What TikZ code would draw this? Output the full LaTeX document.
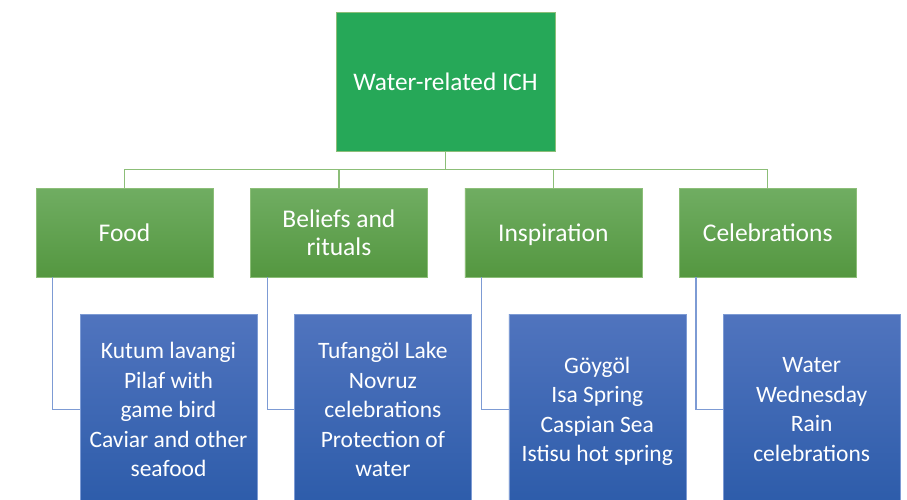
\documentclass[tikz,border=0pt]{standalone}
\usepackage{fontspec}
\setmainfont{Carlito}
\usepackage{xcolor}
\usepackage{tikz}
\usetikzlibrary{positioning}

\definecolor{rootgreen}{RGB}{38,168,88}
\definecolor{gtop}{RGB}{112,173,98}
\definecolor{gbot}{RGB}{84,151,64}
\definecolor{gline}{RGB}{140,190,120}
\definecolor{btop}{RGB}{80,116,190}
\definecolor{bbot}{RGB}{45,92,170}
\definecolor{bline}{RGB}{125,155,212}

\begin{document}
\begin{tikzpicture}[
  x=1pt, y=1pt,
  root/.style={fill=rootgreen, draw=gline, minimum width=219pt, minimum height=139pt,
               font=\fontsize{25.3}{29}\selectfont, text=white, align=center, inner sep=0pt},
  cat/.style={top color=gtop, bottom color=gbot, draw=gline, minimum width=177pt, minimum height=89pt,
              font=\fontsize{25.5}{28}\selectfont, text=white, align=center, inner sep=0pt,
              text depth=0pt},
  item/.style={top color=btop, bottom color=bbot, draw=bline, minimum width=177pt, minimum height=190pt,
               font=\fontsize{23.5}{29.5}\selectfont, text=white, align=center, inner sep=0pt,
               text depth=0pt},
  glink/.style={draw=gline, line width=1.3pt},
  blink/.style={draw=bline, line width=1.3pt},
]
\useasboundingbox (0,0) rectangle (907,-500);
\clip (0,0) rectangle (907,-500);

\node[root] (root) at (445.5,-81.5) {Water-related ICH};

\node[cat] (food) at (124.5,-232.5) {Food};
\node[cat, right=37pt of food] (beliefs) {Beliefs and\\rituals};
\node[cat, right=37pt of beliefs] (inspiration) {Inspiration};
\node[cat, right=37pt of inspiration] (celebrations) {Celebrations};

\node[item, below right=37pt and 44pt of food.south west] (food-list)
  {Kutum lavangi\\Pilaf with\\game bird\\Caviar and other\\seafood};
\node[item, below right=37pt and 44pt of beliefs.south west] (beliefs-list)
  {Tufangöl Lake\\Novruz\\celebrations\\Protection of\\water};
\node[item, below right=37pt and 44pt of inspiration.south west] (inspiration-list)
  {Göygöl\\Isa Spring\\Caspian Sea\\Istisu hot spring};
\node[item, below right=37pt and 44pt of celebrations.south west] (celebrations-list)
  {Water\\Wednesday\\Rain\\celebrations};

\foreach \c in {food,beliefs,inspiration,celebrations}{
  \draw[glink] (root.south) -- ++(0,-18) -| (\c.north);
  \draw[blink] ([xshift=17pt]\c.south west) |- (\c-list.west);
}
\end{tikzpicture}
\end{document}
